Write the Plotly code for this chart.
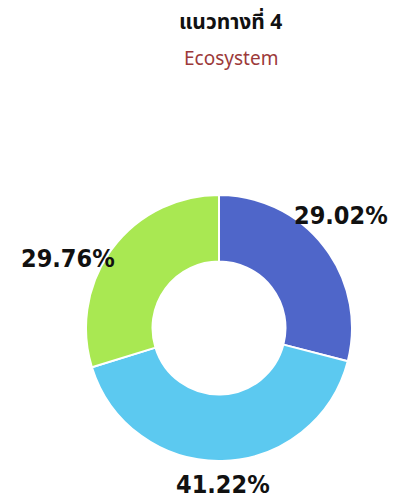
import numpy as np
import plotly.graph_objects as go

# Data
labels = ['A', 'B', 'C']
values = [29.02, 41.22, 29.76]
colors = ['#4F66C9', '#5CC9F0', '#A9E852']
pct_text = ['29.02%', '41.22%', '29.76%']

W, H = 401, 499
OFF = 8  # page body margin shifts the figure by 8px
# donut geometry (screen pixels)
cx, cy, R = 219, 328, 133


def px2paper(x, y):
    return (x - OFF) / W, 1 - (y - OFF) / H


fig = go.Figure()

x0, y0 = px2paper(cx - R, cy + R)
x1, y1 = px2paper(cx + R, cy - R)
fig.add_trace(go.Pie(
    labels=labels,
    values=values,
    textinfo='none',
    hole=0.5,
    sort=False,
    direction='clockwise',
    rotation=0,
    marker=dict(colors=colors, line=dict(color='#FFFFFF', width=2)),
    domain=dict(x=[x0, x1], y=[y0, y1]),
    showlegend=False,
    hoverinfo='none',
))

# percentage labels outside the ring, at each slice's mid angle
nudge = {'29.02%': (-4, 15), '41.22%': (0, 3), '29.76%': (-23, -25)}
vals = np.array(values)
mids = (np.cumsum(vals) - vals / 2) / vals.sum() * 2 * np.pi
annotations = []
for txt, a in zip(pct_text, mids):
    r = R * 1.2
    ax, ay = px2paper(cx + r * np.sin(a), cy - r * np.cos(a))
    annotations.append(dict(
        x=ax, y=ay, xref='paper', yref='paper', text='<b>%s</b>' % txt,
        showarrow=False, xanchor='center', yanchor='middle',
        xshift=nudge[txt][0], yshift=nudge[txt][1],
        font=dict(family='DejaVu Sans Condensed', size=25, color='#111111'),
    ))

tx, ty = px2paper(230, 22)
sx, sy = px2paper(231, 58)
annotations += [
    dict(x=tx, y=ty, xref='paper', yref='paper', text='<b>แนวทางที่ 4</b>',
         showarrow=False, font=dict(family='Noto Sans Thai, Noto Sans, sans-serif', size=21, color='#111111'),
         yanchor='middle'),
    dict(x=sx, y=sy, xref='paper', yref='paper', text='Ecosystem',
         showarrow=False, font=dict(family='Noto Sans', size=19, color='#9C3A3A'),
         yanchor='middle'),
]

fig.update_layout(
    width=W,
    height=H,
    margin=dict(l=0, r=0, t=0, b=0),
    paper_bgcolor='#FFFFFF',
    plot_bgcolor='#FFFFFF',
    annotations=annotations,
)

fig.write_html('out.html')
